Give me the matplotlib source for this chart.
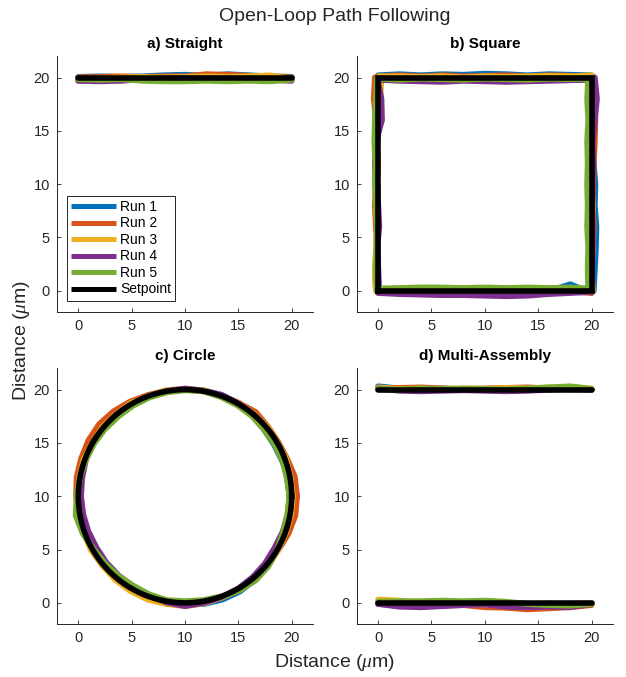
import numpy as np
import matplotlib
matplotlib.use('Agg')
import matplotlib.pyplot as plt

plt.rcParams['font.family'] = ['Liberation Sans', 'DejaVu Sans']
plt.rcParams['mathtext.fontset'] = 'custom'
plt.rcParams['mathtext.rm'] = 'Liberation Sans'
plt.rcParams['mathtext.it'] = 'Liberation Serif:italic'

run_labels = ['Run 1', 'Run 2', 'Run 3', 'Run 4', 'Run 5']
run_colors = ['#0072BD', '#D95319', '#EDB120', '#7E2F8E', '#77AC30']
ticks = [0, 5, 10, 15, 20]

# positions along a straight segment (um)
seg_pos = [0, 2, 4, 6, 8, 10, 12, 14, 16, 18, 20]

# a) straight line at y = 20, deviation in y for each run
straight_dev = [
    [0.05, 0.1, 0.05, 0.1, 0.2, 0.25, 0.15, 0.3, 0.2, 0.1, 0.05],
    [0, 0.05, 0.1, 0.05, 0.1, 0.1, 0.3, 0.25, 0.15, 0.1, 0],
    [-0.3, -0.1, 0, 0.05, 0, 0.05, 0.1, 0.05, 0.1, 0.2, -0.2],
    [-0.3, -0.35, -0.3, -0.15, -0.1, -0.05, -0.1, -0.1, -0.15, -0.2, -0.3],
    [-0.15, -0.2, -0.15, -0.3, -0.35, -0.35, -0.3, -0.35, -0.3, -0.35, -0.2],
]
straight_set_x = [0, 20]
straight_set_y = [20, 20]

# b) square, outward deviation per side (bottom, right, top, left)
square_bottom = [
    [0.1, 0.1, 0.05, 0, 0.1, 0.05, 0, 0.1, 0.05, -0.6, 0.2],
    [0.1, 0, 0.05, 0.1, 0, 0.05, 0.1, 0, 0.1, 0.05, 0.2],
    [0.2, 0.1, 0, 0.1, 0.05, 0, 0.1, 0, 0.05, 0, 0.1],
    [0.2, 0.3, 0.35, 0.4, 0.4, 0.45, 0.5, 0.45, 0.3, 0.2, 0.1],
    [-0.2, -0.25, -0.3, -0.3, -0.25, -0.3, -0.25, -0.3, -0.25, -0.3, -0.2],
]
square_right = [
    [0.2, 0.3, 0.4, 0.45, 0.3, 0.35, 0.2, 0.15, 0.1, 0.1, 0.2],
    [0.1, 0.05, 0.1, 0.2, 0.1, 0.15, 0.2, 0.3, 0.35, 0.3, 0.1],
    [0.1, 0, 0.1, 0.05, 0.1, 0, 0.1, 0.05, 0.2, 0.1, 0.2],
    [0, 0.05, 0.1, 0.1, 0.05, 0.1, 0.15, 0.1, 0.3, 0.5, 0.3],
    [-0.3, -0.35, -0.3, -0.4, -0.35, -0.4, -0.35, -0.4, -0.3, -0.4, -0.3],
]
square_top = [
    [0.2, 0.25, 0.3, 0.2, 0.3, 0.35, 0.25, 0.3, 0.2, 0.3, 0.2],
    [0.1, 0.15, 0.2, 0.1, 0.2, 0.15, 0.1, 0.2, 0.1, 0.2, 0.1],
    [0.2, 0.1, 0.15, 0.1, 0.05, 0.1, 0, 0.1, 0.05, 0.1, 0.1],
    [-0.2, -0.25, -0.3, -0.35, -0.4, -0.35, -0.3, -0.4, -0.35, -0.3, -0.2],
    [-0.1, -0.15, -0.1, -0.2, -0.15, -0.1, -0.2, -0.15, -0.1, -0.2, -0.1],
]
square_left = [
    [0.1, 0, -0.1, 0.1, 0.2, 0.1, 0, 0.1, 0.05, 0, 0.1],
    [0.3, 0.4, 0.2, 0.1, 0.3, 0.2, 0.3, 0.2, 0.1, 0.3, 0.2],
    [-0.3, -0.2, 0, 0.1, 0, 0.1, 0.2, 0.1, 0.2, 0.3, 0.2],
    [0.1, -0.3, -0.35, 0.2, 0.3, 0.1, 0, -0.1, 0.1, 0, -0.1],
    [0.1, 0.2, 0.3, 0.35, 0.25, 0.3, 0.2, 0.1, 0.15, 0.2, 0.1],
]
square_set_x = [0, 20, 20, 0, 0]
square_set_y = [0, 0, 20, 20, 0]

# c) circle centre (10, 10), radius 10, radial deviation every 10 deg
circle_angles = [0, 10, 20, 30, 40, 50, 60, 70, 80, 90, 100, 110,
                 120, 130, 140, 150, 160, 170, 180, 190, 200, 210, 220, 230,
                 240, 250, 260, 270, 280, 290, 300, 310, 320, 330, 340, 350]
circle_dev = [
    [0, -0.1, -0.3, -0.35, -0.3, -0.1, 0, 0.1, 0.05, 0, 0, -0.05,
     -0.1, 0, 0.05, 0.1, 0, -0.1, -0.2, -0.25, -0.1, 0, 0.1, 0.05,
     0.1, 0.15, 0.2, 0.15, 0.25, 0.3, 0.3, 0.2, 0.1, 0, -0.05, -0.1],
    [0.5, 0.45, 0.2, 0.1, 0.15, 0.3, 0.1, 0, 0, 0, 0.05, 0.1,
     0.25, 0.4, 0.5, 0.45, 0.35, 0.3, 0.2, 0.1, 0, 0.05, 0.1, 0,
     0.1, 0.05, 0, 0.1, 0.05, 0.1, 0.15, 0.1, 0, 0.1, 0.3, 0.5],
    [0.1, 0.05, 0.1, 0, 0.1, 0.05, 0.1, 0, 0.1, 0.05, 0.1, 0,
     0.1, 0.05, 0.1, 0, 0.1, 0.05, 0.1, 0.05, 0.1, 0.15, 0.1, 0.2,
     0.25, 0.3, 0.25, 0.3, 0.2, 0.1, 0.15, 0.2, 0.15, 0.1, 0.05, 0.1],
    [-0.2, -0.25, -0.2, -0.15, -0.1, 0, 0.05, 0.1, 0.05, 0.1, 0, -0.05,
     -0.1, 0, -0.05, 0, -0.1, -0.2, -0.25, -0.3, -0.35, -0.4, -0.35, -0.3,
     -0.25, -0.1, 0.1, 0.3, 0.15, 0.05, 0, -0.1, -0.2, -0.3, -0.25, -0.2],
    [-0.2, -0.3, -0.25, -0.3, -0.3, -0.2, -0.15, -0.1, 0, -0.05, -0.1, -0.15,
     -0.2, -0.25, -0.2, -0.15, -0.1, 0, 0.15, 0.4, 0.2, -0.1, -0.2, -0.25,
     -0.3, -0.2, -0.1, -0.15, -0.1, 0, 0.2, 0.3, 0.2, 0, -0.2, -0.25],
]
circle_center = (10, 10)
circle_radius = 10

# d) multi-assembly: two lines at y = 20 and y = 0
multi_top_dev = [
    [0.3, 0.1, 0.05, 0.1, 0, 0.05, 0.1, 0, 0.05, 0.1, 0.05],
    [0.1, 0.15, 0.2, 0.1, 0.05, 0.1, 0.15, 0.2, 0.1, 0.05, 0],
    [0.2, 0.05, 0.1, 0, 0.1, 0.05, 0.15, 0.1, 0.2, 0.25, 0.1],
    [0.1, -0.1, -0.15, -0.1, -0.05, -0.1, -0.15, -0.1, 0, 0.1, 0],
    [0.05, 0, 0.1, 0.05, 0.1, 0.05, 0, 0.1, 0.2, 0.3, 0.05],
]
multi_bottom_dev = [
    [-0.1, -0.2, -0.4, -0.2, -0.1, -0.15, -0.1, -0.2, -0.1, -0.15, -0.1],
    [0, -0.1, -0.2, -0.25, -0.2, -0.4, -0.45, -0.6, -0.5, -0.4, -0.2],
    [0.3, 0.2, 0, -0.1, -0.2, -0.15, -0.3, -0.25, -0.3, -0.1, -0.05],
    [-0.1, -0.35, -0.4, -0.3, -0.2, -0.15, -0.35, -0.4, -0.35, -0.4, -0.1],
    [0.1, 0.15, 0.15, 0.2, 0.15, 0.2, 0.1, -0.1, -0.2, -0.25, -0.1],
]
multi_levels = [20, 0]

RUN_LW = 4.3
SET_LW = 4.0
pos = np.array(seg_pos, dtype=float)


def style_axes(ax, title):
    ax.set_xlim(-2, 22)
    ax.set_ylim(-2, 22)
    ax.set_xticks(ticks)
    ax.set_yticks(ticks)
    for s in ['top', 'right']:
        ax.spines[s].set_visible(False)
    for s in ['left', 'bottom']:
        ax.spines[s].set_color('#262626')
        ax.spines[s].set_linewidth(0.7)
    ax.tick_params(direction='in', length=3, width=0.6, colors='#262626',
                   labelsize=10.5, pad=5)
    ax.set_title(title, fontsize=11, fontweight='bold', pad=6)


def run_line(ax, x, y, c, label=None):
    ax.plot(x, y, color=c, lw=RUN_LW, solid_capstyle='round',
            solid_joinstyle='round', label=label)


fig = plt.figure(figsize=(6.26, 6.77), dpi=100)
axw, axh = 0.409, 0.378
ax_a = fig.add_axes([0.091, 0.539, axw, axh])
ax_b = fig.add_axes([0.570, 0.539, axw, axh])
ax_c = fig.add_axes([0.091, 0.078, axw, axh])
ax_d = fig.add_axes([0.570, 0.078, axw, axh])

# a) Straight
for dev, c, lab in zip(straight_dev, run_colors, run_labels):
    run_line(ax_a, pos, 20 + np.array(dev), c, lab)
ax_a.plot(straight_set_x, straight_set_y, color='k', lw=SET_LW,
          solid_capstyle='round', label='Setpoint')
style_axes(ax_a, 'a) Straight')
leg = ax_a.legend(loc='lower left', bbox_to_anchor=(0.04, 0.045), fontsize=10,
                  handlelength=3.2, handletextpad=0.3, labelspacing=0.18,
                  borderpad=0.3, fancybox=False, framealpha=1,
                  edgecolor='#262626', borderaxespad=0)
leg.get_frame().set_linewidth(0.7)
for h in leg.get_lines():
    h.set_linewidth(3.6)
    h.set_solid_capstyle('butt')

# b) Square
for i, c in enumerate(run_colors):
    bx = pos
    by = -np.array(square_bottom[i])
    rx = 20 + np.array(square_right[i])
    ry = pos
    tx = pos[::-1]
    ty = 20 + np.array(square_top[i])
    lx = -np.array(square_left[i])
    ly = pos[::-1]
    run_line(ax_b, np.concatenate([bx, rx, tx, lx]),
             np.concatenate([by, ry, ty, ly]), c)
ax_b.plot(square_set_x, square_set_y, color='k', lw=SET_LW,
          solid_joinstyle='miter')
style_axes(ax_b, 'b) Square')

# c) Circle
th = np.deg2rad(circle_angles + [360])
for dev, c in zip(circle_dev, run_colors):
    r = circle_radius + np.array(dev + [dev[0]])
    run_line(ax_c, circle_center[0] + r * np.cos(th),
             circle_center[1] + r * np.sin(th), c)
th_set = np.deg2rad(np.arange(0, 361, 2))
ax_c.plot(circle_center[0] + circle_radius * np.cos(th_set),
          circle_center[1] + circle_radius * np.sin(th_set),
          color='k', lw=SET_LW)
style_axes(ax_c, 'c) Circle')

# d) Multi-Assembly
for devs, lvl in zip([multi_top_dev, multi_bottom_dev], multi_levels):
    for dev, c in zip(devs, run_colors):
        run_line(ax_d, pos, lvl + np.array(dev), c)
    ax_d.plot([0, 20], [lvl, lvl], color='k', lw=SET_LW, solid_capstyle='round')
style_axes(ax_d, 'd) Multi-Assembly')

fig.text(0.535, 0.975, 'Open-Loop Path Following', ha='center', va='center',
         fontsize=14, color='#262626')
fig.text(0.535, 0.021, r'Distance ($\mu$m)', ha='center', va='center',
         fontsize=14, color='#262626')
fig.text(0.035, 0.497, r'Distance ($\mu$m)', ha='center', va='center',
         rotation=90, fontsize=14, color='#262626')

fig.savefig('out.png', dpi=100)
